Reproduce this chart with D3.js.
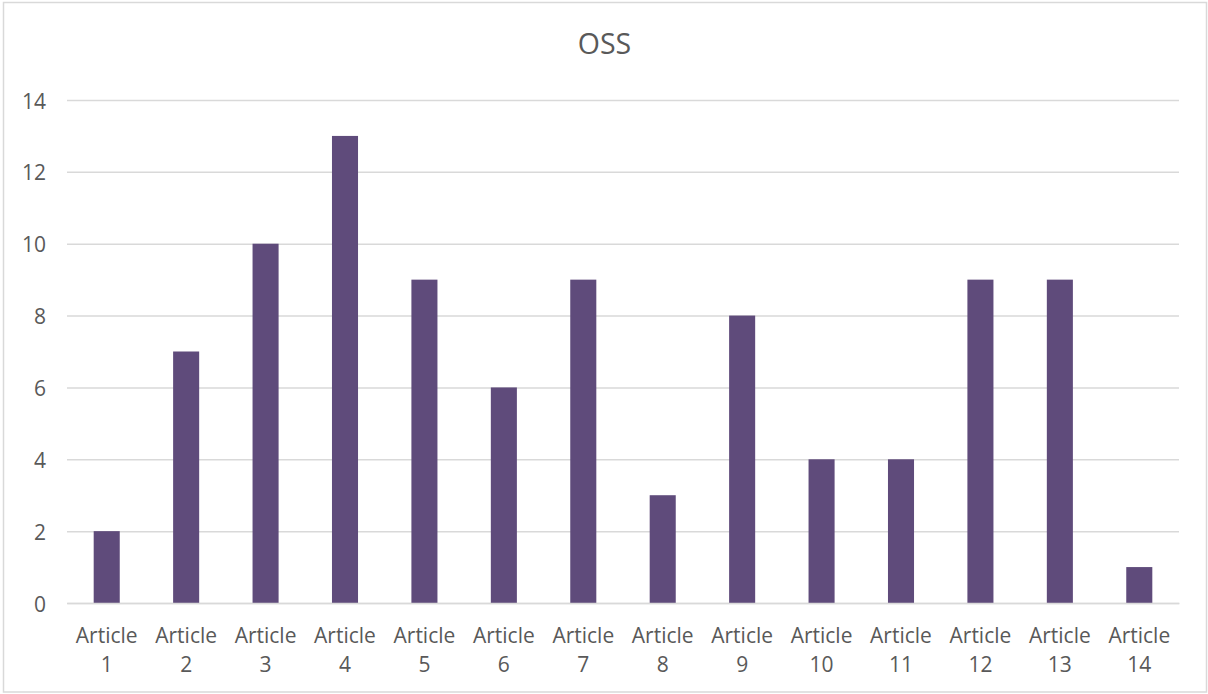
<!DOCTYPE html>
<html>
<head>
<meta charset="utf-8">
<script src="https://cdn.jsdelivr.net/npm/d3@7"></script>
<style>
html, body { margin: 0; padding: 0; background: #fff; }
svg { display: block; }
</style>
</head>
<body>
<svg id="chart" width="1208" height="694"></svg>
<script>
const title = "OSS";
const categories = ["Article 1","Article 2","Article 3","Article 4","Article 5","Article 6","Article 7","Article 8","Article 9","Article 10","Article 11","Article 12","Article 13","Article 14"];
const values = [2, 7, 10, 13, 9, 6, 9, 3, 8, 4, 4, 9, 9, 1];
const yTicks = [0, 2, 4, 6, 8, 10, 12, 14];

const svg = d3.select("#chart");
const W = 1208, H = 694;
const margin = { left: 67, right: 29, top: 100, bottom: 91 };
const font = "'Open Sans', 'Noto Sans', sans-serif";
const textColor = "#595959";
const gridColor = "#D9D9D9";
const barColor = "#5F4B7B";

svg.append("rect")
  .attr("x", 3.5).attr("y", 2.5)
  .attr("width", W - 5).attr("height", H - 4.5)
  .attr("fill", "#fff").attr("stroke", gridColor).attr("stroke-width", 1.5);

const x = d3.scaleBand().domain(categories)
  .range([margin.left, W - margin.right])
  .paddingInner(0.672).paddingOuter(0.336);
const y = d3.scaleLinear().domain([0, 14]).range([H - margin.bottom, margin.top]);

// gridlines
const yAxis = d3.axisLeft(y).tickValues(yTicks).tickSize(-(W - margin.left - margin.right)).tickPadding(21);
const gy = svg.append("g").attr("transform", `translate(${margin.left},0)`).call(yAxis);
gy.select(".domain").remove();
gy.selectAll(".tick line").attr("stroke", gridColor).attr("stroke-width", 1.5);
gy.selectAll(".tick text")
  .attr("font-family", font).attr("font-size", 21).attr("fill", textColor)
  .attr("dy", null).attr("dominant-baseline", "central");

// bars
svg.append("g").selectAll("rect").data(values).join("rect")
  .attr("x", (d, i) => x(categories[i]))
  .attr("y", d => y(d))
  .attr("width", x.bandwidth())
  .attr("height", d => y(0) - y(d))
  .attr("fill", barColor);

// x axis
const xAxis = d3.axisBottom(x).tickSize(0).tickFormat("");
const gx = svg.append("g").attr("transform", `translate(0,${y(0)})`).call(xAxis);
gx.select(".domain").attr("stroke", gridColor).attr("stroke-width", 1.5);
gx.selectAll(".tick").each(function(d) {
  const parts = d.split(" ");
  const t = d3.select(this).append("text")
    .attr("font-family", font).attr("font-size", 21).attr("fill", textColor)
    .attr("text-anchor", "middle");
  t.append("tspan").attr("x", 0).attr("y", 40).text(parts[0]);
  t.append("tspan").attr("x", 0).attr("y", 69).text(parts[1]);
});

// title
svg.append("text")
  .attr("x", 604.5).attr("y", 54)
  .attr("text-anchor", "middle")
  .attr("font-family", font).attr("font-size", 28.5).attr("fill", textColor)
  .text(title);
</script>
</body>
</html>
